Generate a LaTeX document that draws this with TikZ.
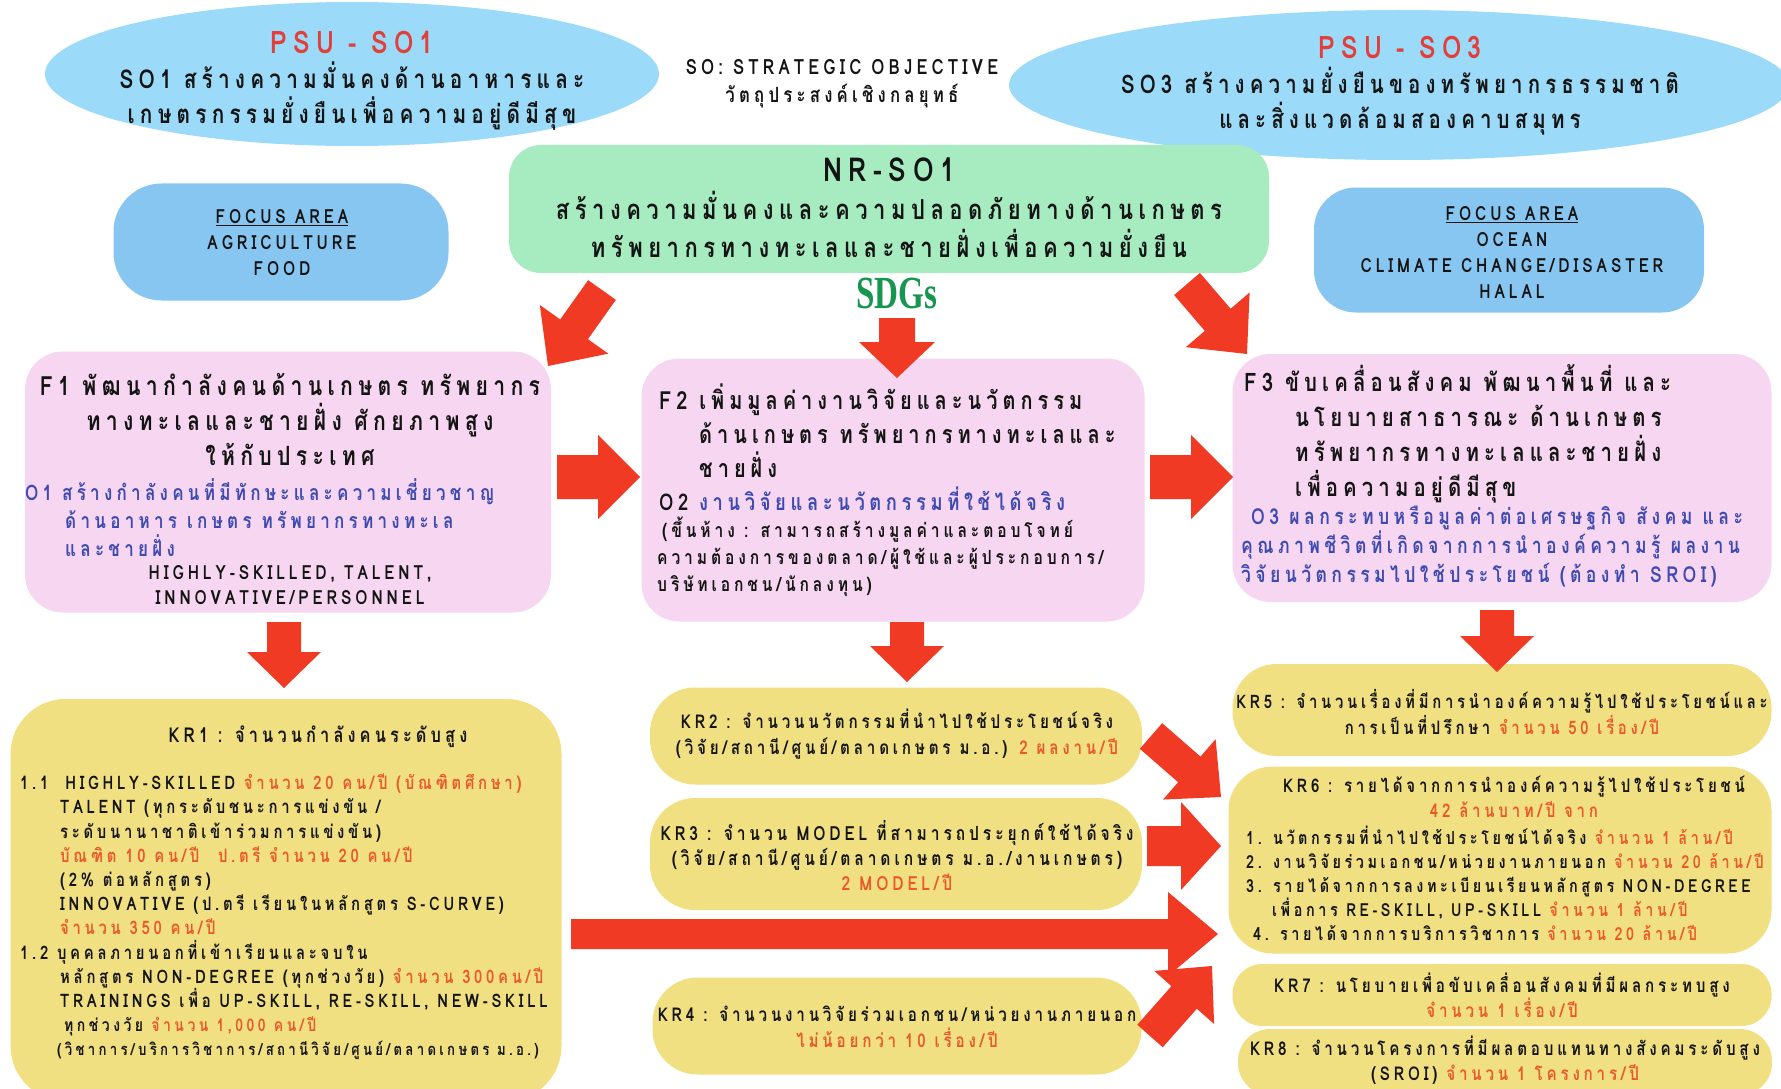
\documentclass[tikz,border=0pt]{standalone}
\usepackage{fontspec}
\setmainfont[Script=Thai,FakeStretch=0.8,LetterSpace=20]{Loma}
\newfontfamily\sdgfont[FakeStretch=0.72]{Liberation Serif}
\usetikzlibrary{shapes.geometric,calc}
\definecolor{ellblue}{RGB}{155,218,248}
\definecolor{fablue}{RGB}{136,198,242}
\definecolor{nrgreen}{RGB}{166,236,192}
\definecolor{fpink}{RGB}{246,214,240}
\definecolor{kryel}{RGB}{241,224,130}
\definecolor{arrred}{RGB}{240,58,36}
\definecolor{psured}{RGB}{226,62,58}
\definecolor{krorange}{RGB}{234,88,44}
\definecolor{oblue}{RGB}{62,74,176}
\definecolor{sdggreen}{RGB}{22,150,78}
\definecolor{ink}{RGB}{20,20,20}
\newcommand\fs[2]{\fontsize{#1}{#2}\selectfont}
\newcommand\og[1]{\textcolor{krorange}{#1}}
\newcommand\ob[1]{\textcolor{oblue}{#1}}
\newcommand\redarrow[5]{%
  \coordinate (ra-h) at ($(#2)!#5!(#1)$);
  \fill[arrred] ($(#1)!#3!90:(#2)$) -- ($(ra-h)!#3!-90:(#1)$) -- ($(ra-h)!#4!-90:(#1)$) -- (#2) -- ($(ra-h)!#4!90:(#1)$) -- ($(ra-h)!#3!90:(#1)$) -- ($(#1)!#3!-90:(#2)$) -- cycle;
}
\tikzset{
  oval/.style={ellipse, fill=ellblue, inner sep=0pt},
  rbox/.style={rectangle, rounded corners=#1, inner sep=0pt},
  kr/.style={rbox=#1, fill=kryel},
  fbox/.style={rbox=38pt, fill=fpink},
  cbox/.style={rbox=#1, fill=fablue},
  kt/.style={align=center, font=\bfseries\fs{19}{26}},
}
\begin{document}
\begin{tikzpicture}[x=1pt,y=-1pt, every node/.append style={inner sep=0pt, text=ink}]
\useasboundingbox[fill=white] (0,0) rectangle (1781,1089);
% ellipses
\node[oval, minimum width=614pt, minimum height=144pt] (so1) at (352,74) {};
\node[oval, minimum width=780pt, minimum height=150pt] (so3) at (1399,85) {};
% boxes
\node[rbox=32pt, fill=nrgreen, minimum width=760pt, minimum height=128pt] (nr) at (889,209) {};
\node[cbox=48pt, minimum width=335pt, minimum height=117pt] (fa1) at (281,242) {};
\node[cbox=42pt, minimum width=390pt, minimum height=125pt] (fa2) at (1509,250) {};
\node[fbox, minimum width=526pt, minimum height=261pt] (f1) at (288,482) {};
\node[fbox, minimum width=503pt, minimum height=263pt] (f2) at (893,490) {};
\node[fbox, minimum width=539pt, minimum height=248pt] (f3) at (1502,478) {};
\node[kr=55pt, minimum width=551pt, minimum height=402pt] (kr1) at (286,900) {};
\node[kr=45pt, minimum width=492pt, minimum height=97pt] (kr2) at (896,736) {};
\node[kr=45pt, minimum width=492pt, minimum height=112pt] (kr3) at (896,854) {};
\node[kr=45pt, minimum width=489pt, minimum height=97pt] (kr4) at (897,1026) {};
\node[kr=44pt, minimum width=539pt, minimum height=92pt] (kr5) at (1502,710) {};
\node[kr=44pt, minimum width=543pt, minimum height=187pt] (kr6) at (1500,860) {};
\node[kr=30pt, minimum width=539pt, minimum height=62pt] (kr7) at (1502,995) {};
\node[kr=32pt, minimum width=534pt, minimum height=66pt] (kr8) at (1505,1062) {};
% arrows
\coordinate (a1s) at (602,290); \coordinate (a1e) at (548,366);
\coordinate (a2s) at (897,318); \coordinate (a2e) at (897,378);
\coordinate (a3s) at (1187,284); \coordinate (a3e) at (1247,354);
\coordinate (a4s) at (557,477); \coordinate (a4e) at (640,477);
\coordinate (a5s) at (1150,477); \coordinate (a5e) at (1233,477);
\coordinate (a6s) at (284,622); \coordinate (a6e) at (284,688);
\coordinate (a7s) at (907,622); \coordinate (a7e) at (907,682);
\coordinate (a8s) at (1497,610); \coordinate (a8e) at (1497,672);
\coordinate (a9s) at (1151,736); \coordinate (a9e) at (1221,797);
\coordinate (a10s) at (1147,846); \coordinate (a10e) at (1221,846);
\coordinate (a11s) at (571,934); \coordinate (a11e) at (1218,934);
\coordinate (a12s) at (1150,1036); \coordinate (a12e) at (1212,966);
\redarrow{a1s}{a1e}{17pt}{42pt}{45pt}
\redarrow{a2s}{a2e}{18pt}{38pt}{36pt}
\redarrow{a3s}{a3e}{17pt}{42pt}{45pt}
\redarrow{a4s}{a4e}{22pt}{42pt}{42pt}
\redarrow{a5s}{a5e}{22pt}{42pt}{42pt}
\redarrow{a6s}{a6e}{17pt}{37pt}{36pt}
\redarrow{a7s}{a7e}{17pt}{37pt}{36pt}
\redarrow{a8s}{a8e}{17pt}{37pt}{36pt}
\redarrow{a9s}{a9e}{17pt}{40pt}{42pt}
\redarrow{a10s}{a10e}{20pt}{44pt}{40pt}
\redarrow{a11s}{a11e}{15pt}{42pt}{50pt}
\redarrow{a12s}{a12e}{17pt}{40pt}{42pt}
% texts
\node[align=center, font=\bfseries\fs{26}{35}] (so1t) at (352,81) {{\fs{31}{35}\textcolor{psured}{PSU - SO1}}\\SO1 สร้างความมั่นคงด้านอาหารและ\\เกษตรกรรมยั่งยืนเพื่อความอยู่ดีมีสุข};
\node[align=center, font=\bfseries\fs{21}{28}] (sot) at (842,83.5) {SO: STRATEGIC OBJECTIVE\\วัตถุประสงค์เชิงกลยุทธ์};
\node[align=center, font=\bfseries\fs{25.6}{35}] (so3t) at (1400,86) {{\fs{31}{35}\textcolor{psured}{PSU - SO3}}\\SO3 สร้างความยั่งยืนของทรัพยากรธรรมชาติ\\และสิ่งแวดล้อมสองคาบสมุทร};
\node[align=center, font=\bfseries\fs{27.5}{38}] (nrt) at (889,208) {{\fs{33}{38}NR-SO1}\\สร้างความมั่นคงและความปลอดภัยทางด้านเกษตร\\ทรัพยากรทางทะเลและชายฝั่งเพื่อความยั่งยืน};
\node[align=center, font=\bfseries\fs{19.5}{26}] (fa1t) at (282,243) {\underline{FOCUS AREA}\\AGRICULTURE\\FOOD};
\node[align=center, font=\bfseries\fs{19.5}{26}] (fa2t) at (1512,253) {\underline{FOCUS AREA}\\OCEAN\\CLIMATE CHANGE/DISASTER\\HALAL};
\node[font=\sdgfont\bfseries\fs{46}{46}, text=sdggreen] (sdg) at (897,293) {SDGs};
\node[align=center, font=\bfseries\fs{26.5}{35}] (f1a) at (290,419) {F1 พัฒนากำลังคนด้านเกษตร ทรัพยากร\\ทางทะเลและชายฝั่ง ศักยภาพสูง\\ให้กับประเทศ};
\node[align=left, anchor=west, text=oblue, font=\bfseries\fs{21.3}{28}] (f1b) at (25,518) {O1 สร้างกำลังคนที่มีทักษะและความเชี่ยวชาญ\\\hspace*{40pt}ด้านอาหาร เกษตร ทรัพยากรทางทะเล\\\hspace*{40pt}และชายฝั่ง};
\node[align=center, font=\bfseries\fs{19.5}{25}] (f1c) at (290,585) {HIGHLY-SKILLED, TALENT,\\INNOVATIVE/PERSONNEL};
\node[align=left, anchor=west, font=\bfseries\fs{25}{34}] (f2a) at (659,431) {F2 เพิ่มมูลค่างานวิจัยและนวัตกรรม\\\hspace*{40pt}ด้านเกษตร ทรัพยากรทางทะเลและ\\\hspace*{40pt}ชายฝั่ง};
\node[anchor=west, font=\bfseries\fs{23}{30}] (f2b) at (659,499) {O2 \ob{งานวิจัยและนวัตกรรมที่ใช้ได้จริง}};
\node[align=left, anchor=west, font=\bfseries\fs{19.5}{27}] (f2c) at (657,557) {\hspace*{5pt}(ขึ้นห้าง : สามารถสร้างมูลค่าและตอบโจทย์\\ความต้องการของตลาด/ผู้ใช้และผู้ประกอบการ/\\บริษัทเอกชน/นักลงทุน)};
\node[align=left, anchor=west, font=\bfseries\fs{25.5}{35}] (f3a) at (1244,434) {F3 ขับเคลื่อนสังคม พัฒนาพื้นที่ และ\\\hspace*{51pt}นโยบายสาธารณะ ด้านเกษตร\\\hspace*{51pt}ทรัพยากรทางทะเลและชายฝั่ง\\\hspace*{51pt}เพื่อความอยู่ดีมีสุข};
\node[align=left, anchor=west, text=oblue, font=\bfseries\fs{22}{29}] (f3b) at (1241,547) {\hspace*{10pt}O3 ผลกระทบหรือมูลค่าต่อเศรษฐกิจ สังคม และ\\คุณภาพชีวิตที่เกิดจากการนำองค์ความรู้ ผลงาน\\วิจัยนวัตกรรมไปใช้ประโยชน์ (ต้องทำ SROI)};
\node[font=\bfseries\fs{20.5}{24}] (kr1a) at (318,737) {KR1 : จำนวนกำลังคนระดับสูง};
\node[align=left, anchor=west, font=\bfseries\fs{18.6}{24.2}] (kr1b) at (20,917) {1.1\hspace{17pt}HIGHLY-SKILLED \og{จำนวน 20 คน/ปี (บัณฑิตศึกษา)}\\
\hspace*{40pt}TALENT (ทุกระดับชนะการแข่งขัน /\\
\hspace*{40pt}ระดับนานาชาติเข้าร่วมการแข่งขัน)\\
\hspace*{40pt}\og{บัณฑิต 10 คน/ปี\quad ป.ตรี จำนวน 20 คน/ปี}\\
\hspace*{40pt}(2\% ต่อหลักสูตร)\\
\hspace*{40pt}INNOVATIVE (ป.ตรี เรียนในหลักสูตร S-CURVE)\\
\hspace*{40pt}\og{จำนวน 350 คน/ปี}\\
1.2 บุคคลภายนอกที่เข้าเรียนและจบใน\\
\hspace*{40pt}หลักสูตร NON-DEGREE (ทุกช่วงวัย) \og{จำนวน 300คน/ปี}\\
\hspace*{40pt}TRAININGS เพื่อ UP-SKILL, RE-SKILL, NEW-SKILL\\
\hspace*{44pt}{\fs{17.5}{24.2}ทุกช่วงวัย \og{จำนวน 1,000 คน/ปี}}\\
\hspace*{37pt}{\fs{16.5}{24.2}(วิชาการ/บริการวิชาการ/สถานีวิจัย/ศูนย์/ตลาดเกษตร ม.อ.)}};
\node[kt] (kr2t) at (897,734) {KR2 : จำนวนนวัตกรรมที่นำไปใช้ประโยชน์จริง\\(วิจัย/สถานี/ศูนย์/ตลาดเกษตร ม.อ.) \og{2 ผลงาน/ปี}};
\node[kt, font=\bfseries\fs{19.5}{25}] (kr3t) at (897,856) {KR3 : จำนวน MODEL ที่สามารถประยุกต์ใช้ได้จริง\\(วิจัย/สถานี/ศูนย์/ตลาดเกษตร ม.อ./งานเกษตร)\\\og{2 MODEL/ปี}};
\node[kt] (kr4t) at (897,1027) {KR4 : จำนวนงานวิจัยร่วมเอกชน/หน่วยงานภายนอก\\\og{ไม่น้อยกว่า 10 เรื่อง/ปี}};
\node[kt, font=\bfseries\fs{18.6}{26}] (kr5t) at (1502,712) {KR5 : จำนวนเรื่องที่มีการนำองค์ความรู้ไปใช้ประโยชน์และ\\การเป็นที่ปรึกษา \og{จำนวน 50 เรื่อง/ปี}};
\node[kt, font=\bfseries\fs{18.8}{25}] (kr6a) at (1514,797) {KR6 : รายได้จากการนำองค์ความรู้ไปใช้ประโยชน์\\\og{42 ล้านบาท/ปี จาก}};
\node[align=left, anchor=west, font=\bfseries\fs{18}{24}] (kr6b) at (1246,883) {1. นวัตกรรมที่นำไปใช้ประโยชน์ได้จริง \og{จำนวน 1 ล้าน/ปี}\\
2. งานวิจัยร่วมเอกชน/หน่วยงานภายนอก \og{จำนวน 20 ล้าน/ปี}\\
3. รายได้จากการลงทะเบียนเรียนหลักสูตร NON-DEGREE\\
\hspace*{26pt}เพื่อการ RE-SKILL, UP-SKILL \og{จำนวน 1 ล้าน/ปี}\\
\hspace*{7pt}4. รายได้จากการบริการวิชาการ \og{จำนวน 20 ล้าน/ปี}};
\node[kt, font=\bfseries\fs{19}{25}] (kr7t) at (1502,995) {KR7 : นโยบายเพื่อขับเคลื่อนสังคมที่มีผลกระทบสูง\\\og{จำนวน 1 เรื่อง/ปี}};
\node[kt, font=\bfseries\fs{19}{25}] (kr8t) at (1505,1060) {KR8 : จำนวนโครงการที่มีผลตอบแทนทางสังคมระดับสูง\\(SROI) \og{จำนวน 1 โครงการ/ปี}};
\end{tikzpicture}
\end{document}
